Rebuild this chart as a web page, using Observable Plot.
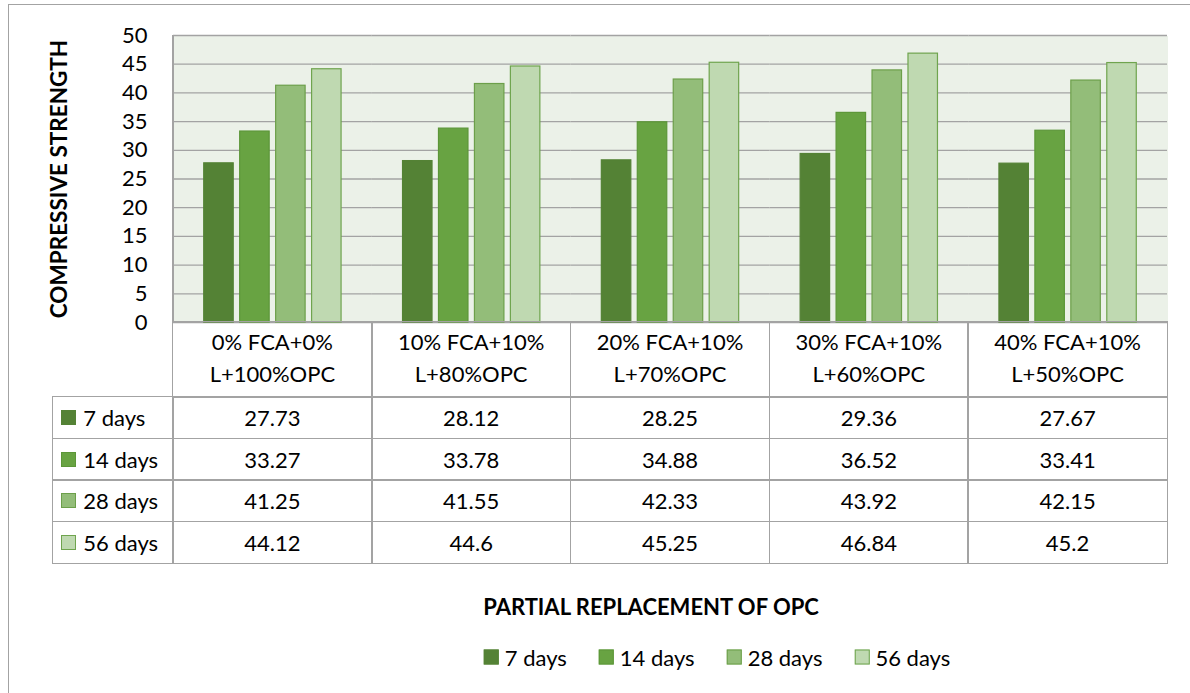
<!DOCTYPE html>
<html><head><meta charset="utf-8">
<script src="https://cdn.jsdelivr.net/npm/d3@7"></script>
<script src="https://cdn.jsdelivr.net/npm/@observablehq/plot@0.6"></script>
<style>
html,body{margin:0;padding:0;background:#fff;}
#root{position:relative;width:1190px;height:693px;overflow:hidden;font-family:Lato,"Open Sans",sans-serif;color:#000;}
.abs{position:absolute;box-sizing:border-box;}
.cell{position:absolute;box-sizing:border-box;border:1.5px solid #a3a3a3;display:flex;align-items:center;justify-content:center;text-align:center;font-size:22px;white-space:pre-line;}
.sw{display:inline-block;width:15px;height:15px;box-sizing:border-box;border:1px solid;}
</style></head><body><div id="root"></div>
<script>
// ---- data ----
const categories = ["0% FCA+0%\nL+100%OPC", "10% FCA+10%\nL+80%OPC", "20% FCA+10%\nL+70%OPC", "30% FCA+10%\nL+60%OPC", "40% FCA+10%\nL+50%OPC"];
const series = ["7 days", "14 days", "28 days", "56 days"];
const values7 = [27.73, 28.12, 28.25, 29.36, 27.67];
const values14 = [33.27, 33.78, 34.88, 36.52, 33.41];
const values28 = [41.25, 41.55, 42.33, 43.92, 42.15];
const values56 = [44.12, 44.6, 45.25, 46.84, 45.2];
const yTicks = [0, 5, 10, 15, 20, 25, 30, 35, 40, 45, 50];
const chartTitle = "Compressive Strength";
const yTitle = "COMPRESSIVE STRENGTH";
const xTitle = "PARTIAL REPLACEMENT OF OPC";

// ---- style ----
const fills = ["#548235", "#68a342", "#93bd79", "#bfd9b1"];
const strokes = ["#548235", "#5c9638", "#6c9f4a", "#6fa44e"];

const seriesValues = [values7, values14, values28, values56];
const rows = [];
seriesValues.forEach((vals, j) => vals.forEach((v, i) => rows.push({category: categories[i], series: series[j], value: v})));

const root = document.getElementById("root");

const chart = Plot.plot({
  width: 1190, height: 330,
  marginLeft: 173, marginRight: 23, marginTop: 35, marginBottom: 8,
  style: {background: "transparent", fontFamily: "Lato, 'Open Sans', sans-serif", fontSize: "22px", color: "#000", overflow: "visible"},
  fx: {domain: categories, paddingInner: 0, paddingOuter: 0, round: false, axis: null},
  x: {domain: series, paddingInner: 0.18, paddingOuter: 0.855, round: false, axis: null},
  y: {domain: [0, 50], ticks: yTicks, tickSize: 0, tickPadding: 26, label: null},
  marks: [
    Plot.frame({fill: "#ebf1e8", stroke: "none", shapeRendering: "crispEdges"}),
    Plot.ruleY(yTicks, {stroke: "#a3a3a3", strokeWidth: 1.3}),
    ...series.map((s, j) => Plot.barY(rows.filter(r => r.series === s), {
      fx: "category", x: "series", y: "value", fill: fills[j], stroke: strokes[j], strokeWidth: 1.2
    }))
  ]
});
chart.style.position = "absolute";
chart.style.left = "0px";
chart.style.top = "0px";
root.appendChild(chart);

const fx = chart.scale("fx");
const y = chart.scale("y");
const plotLeft = fx.apply(categories[0]);
const plotTop = y.apply(50);
const baseY = y.apply(0);

// outer chart border (extends beyond the window)
const border = document.createElement("div");
border.className = "abs";
Object.assign(border.style, {left: "8px", top: "4px", width: "1400px", height: "800px", border: "1.5px solid #a3a3a3"});
root.appendChild(border);

// chart title (cut off at the top, as in the reference)
const t = document.createElement("div");
t.className = "abs";
t.textContent = chartTitle;
Object.assign(t.style, {left: "605px", top: "-30px", transform: "translateX(-50%)", font: "bold 27px 'Liberation Serif', 'DejaVu Serif', serif", lineHeight: "30px", whiteSpace: "nowrap"});
root.appendChild(t);

// plot left border line
const vl = document.createElement("div");
vl.className = "abs";
Object.assign(vl.style, {left: (plotLeft - 0.75) + "px", top: plotTop + "px", width: "1.5px", height: (baseY - plotTop) + "px", background: "#a3a3a3"});
root.appendChild(vl);

// y title
const yt = document.createElement("div");
yt.className = "abs";
yt.textContent = yTitle;
Object.assign(yt.style, {left: "58px", top: ((plotTop + baseY) / 2) + "px", transform: "translate(-50%,-50%) rotate(-90deg)", fontWeight: "bold", fontSize: "22.5px", whiteSpace: "nowrap"});
root.appendChild(yt);

// data table
const headerH = 75, rowH = 41.5, legendColLeft = 53;
function cell(x, yy, w, h, content) {
  const d = document.createElement("div");
  d.className = "cell";
  Object.assign(d.style, {left: (x - 0.75) + "px", top: (yy - 0.75) + "px", width: (w + 1.5) + "px", height: (h + 1.5) + "px"});
  if (typeof content === "string") d.textContent = content; else d.appendChild(content);
  root.appendChild(d);
  return d;
}
categories.forEach((c) => {
  const c0 = cell(fx.apply(c), baseY, fx.bandwidth, headerH, c);
  c0.style.lineHeight = "32px";
  c0.style.paddingBottom = "4px";
});
series.forEach((s, j) => {
  const top = baseY + headerH + j * rowH;
  const lab = document.createElement("div");
  lab.style.cssText = "display:flex;align-items:center;width:100%;padding-left:8px;box-sizing:border-box;";
  const sw = document.createElement("span");
  sw.className = "sw";
  sw.style.background = fills[j];
  sw.style.borderColor = strokes[j];
  const tx = document.createElement("span");
  tx.textContent = s;
  tx.style.marginLeft = "7px";
  lab.appendChild(sw); lab.appendChild(tx);
  const lc = cell(legendColLeft, top, plotLeft - legendColLeft, rowH, lab);
  lc.style.justifyContent = "flex-start";
  categories.forEach((c, i) => {
    cell(fx.apply(c), top, fx.bandwidth, rowH, String(seriesValues[j][i]));
  });
});

// x title
const xt = document.createElement("div");
xt.className = "abs";
xt.textContent = xTitle;
Object.assign(xt.style, {left: "651px", top: "606px", transform: "translate(-50%,-50%)", fontWeight: "bold", fontSize: "22px", whiteSpace: "nowrap"});
root.appendChild(xt);

// legend
const lg = document.createElement("div");
lg.className = "abs";
Object.assign(lg.style, {left: "717px", top: "657px", transform: "translate(-50%,-50%)", display: "flex", alignItems: "center", fontSize: "22px", whiteSpace: "nowrap"});
series.forEach((s, j) => {
  const sw = document.createElement("span");
  sw.className = "sw";
  sw.style.background = fills[j];
  sw.style.borderColor = strokes[j];
  const tx = document.createElement("span");
  tx.textContent = s;
  tx.style.marginLeft = "6px";
  tx.style.marginRight = j < series.length - 1 ? "32px" : "0";
  lg.appendChild(sw); lg.appendChild(tx);
});
root.appendChild(lg);
</script>
</body></html>
